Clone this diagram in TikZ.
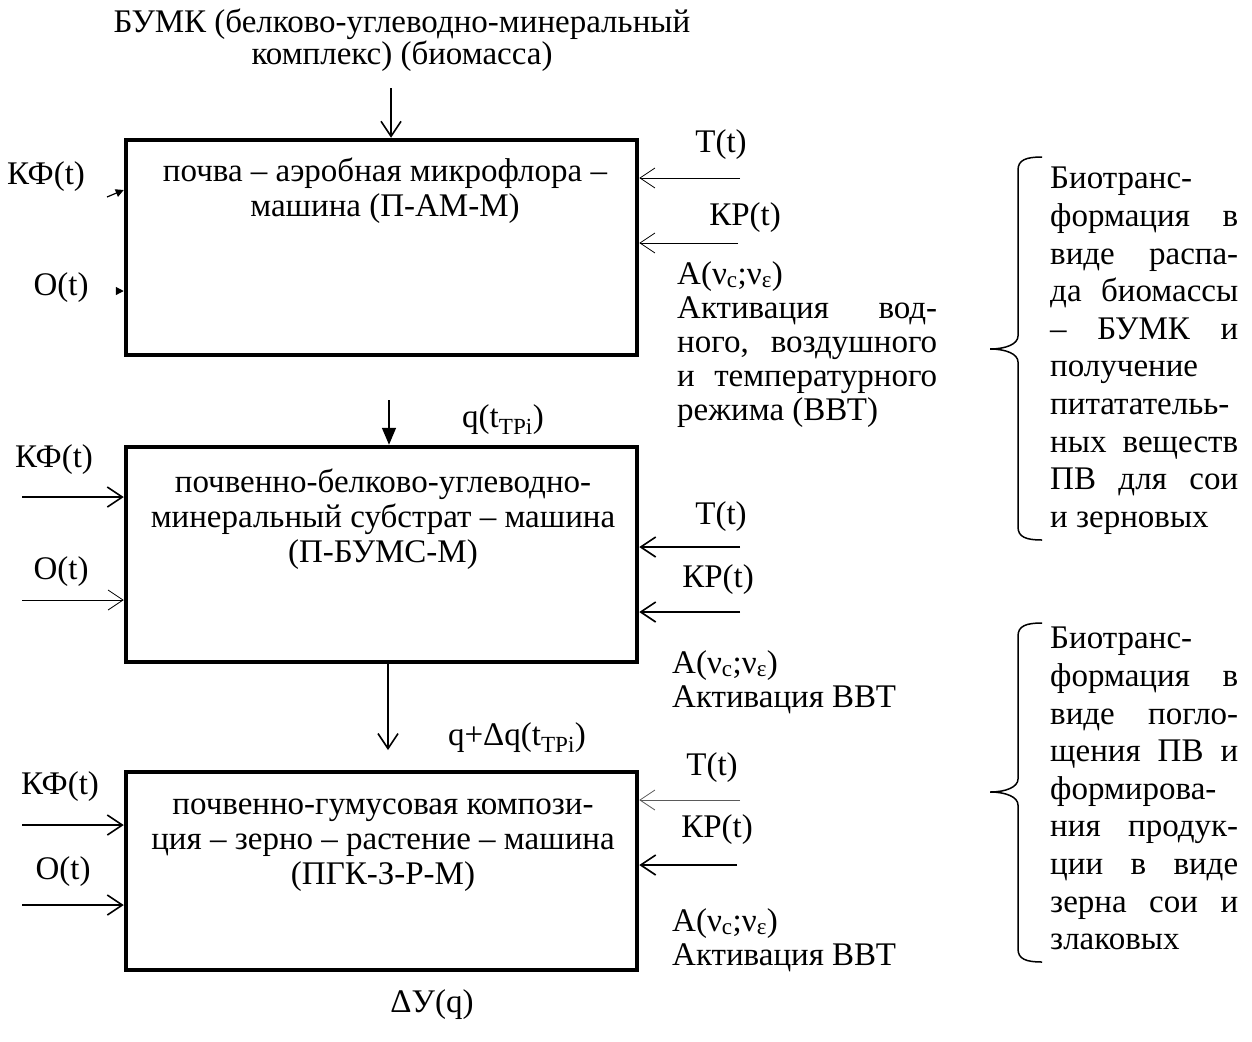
\documentclass[tikz,border=0pt]{standalone}
\usepackage{fontspec}
\setmainfont{Liberation Serif}
\usetikzlibrary{arrows.meta,positioning,calc}
\definecolor{ink}{HTML}{000000}
\definecolor{faint}{HTML}{5A5A5A}
\tikzset{
  block/.style={rectangle,draw=ink,line width=4.5pt,minimum width=511pt,minimum height=215pt,inner sep=0pt},
  blocktext/.style={align=center,anchor=north,inner sep=0pt,font=\fontsize{33}{35}\selectfont},
  lbl/.style={inner sep=0pt,font=\fontsize{33}{34}\selectfont},
  sidetext/.style={align=left,anchor=north west,inner sep=0pt,font=\fontsize{33}{34}\selectfont},
  bracetext/.style={align=left,anchor=north west,inner sep=0pt,font=\fontsize{33}{37.6}\selectfont},
  feed/.style={-{Straight Barb[length=15pt,width=20pt]},line width=1.6pt,ink},
  feedthin/.style={feed,line width=0.8pt},
  flow/.style={-{Triangle[length=17pt,width=14pt]},line width=1.6pt,ink},
  tick/.style={-{Triangle[length=8pt,width=8pt]},line width=1.2pt,ink},
  curly/.style={line width=1.5pt,ink}
}
\newcommand{\jline}[2]{\makebox[#1][s]{#2}}
\newcommand{\actA}{A(ν\textsubscript{c};ν\textsubscript{ε})}

\begin{document}
\begin{tikzpicture}[x=1pt,y=-1pt]
  \useasboundingbox (0,0) rectangle (1252,1041);
  \node[lbl,align=center,anchor=north,font=\fontsize{33}{30}\selectfont] (bumk) at (402,9)
    {БУМК (белково-углеводно-минеральный\\комплекс) (биомасса)};

  \node[block] (box1) at (381.5,247.5) {};
  \node[block] (box2) at (381.5,554.5) {};
  \node[block,minimum height=198pt] (box3) at (381.5,871) {};

  \node[blocktext] (txt1) at (385,158) {почва – аэробная микрофлора –\\машина (П-АМ-М)};
  \node[blocktext] (txt2) at (383,469) {почвенно-белково-углеводно-\\минеральный субстрат – машина\\(П-БУМС-М)};
  \node[blocktext] (txt3) at (383,799) {почвенно-гумусовая компози-\\ция – зерно – растение – машина\\(ПГК-З-Р-М)};

  \coordinate (in1) at (391,88);
  \draw[feed] (in1) -- (in1 |- box1.north);
  \coordinate (q1) at (389,400);
  \draw[flow] (q1) -- (q1 |- box2.north);
  \node[lbl] (qlab) at (503,420) {q(t\textsubscript{ТРi})};
  \coordinate (q2) at (388,750);
  \draw[feed] (box2.south -| q2) -- (q2);
  \node[lbl] (dqlab) at (517,738) {q+Δq(t\textsubscript{ТРi})};
  \node[lbl] (dy) at (432,1005) {ΔУ(q)};

  % left inputs
  \node[lbl] (kf1) at (46,177) {КФ(t)};
  \node[lbl] (o1) at (61,288) {О(t)};
  \coordinate (kf1s) at (107,197);
  \draw[tick] (kf1s) -- ([yshift=57.5pt]box1.west);
  \coordinate (o1s) at (116,291);
  \draw[tick] (o1s) -- (o1s -| box1.west);

  \node[lbl] (kf2) at (54,460) {КФ(t)};
  \node[lbl] (o2) at (61,572) {О(t)};
  \coordinate (kf2s) at (22,497);
  \draw[feed] (kf2s) -- (kf2s -| box2.west);
  \coordinate (o2s) at (22,600);
  \draw[feedthin] (o2s) -- (o2s -| box2.west);

  \node[lbl] (kf3) at (60,787) {КФ(t)};
  \node[lbl] (o3) at (63,872) {О(t)};
  \coordinate (kf3s) at (22,825);
  \draw[feed] (kf3s) -- (kf3s -| box3.west);
  \coordinate (o3s) at (22,905);
  \draw[feed] (o3s) -- (o3s -| box3.west);

  % right inputs
  \node[lbl] (t1) at (721,145) {Т(t)};
  \node[lbl] (kp1) at (745,218) {КР(t)};
  \coordinate (t1s) at (740,178);
  \draw[feedthin] (t1s) -- (t1s -| box1.east);
  \coordinate (kp1s) at (738,243);
  \draw[feedthin] (kp1s) -- (kp1s -| box1.east);

  \node[lbl] (t2) at (721,517) {Т(t)};
  \node[lbl] (kp2) at (718,580) {КР(t)};
  \coordinate (t2s) at (740,547);
  \draw[feed] (t2s) -- (t2s -| box2.east);
  \coordinate (kp2s) at (740,612);
  \draw[feed] (kp2s) -- (kp2s -| box2.east);

  \node[lbl] (t3) at (712,768) {Т(t)};
  \node[lbl] (kp3) at (717,830) {КР(t)};
  \coordinate (t3s) at (740,800);
  \draw[feedthin,faint] (t3s) -- (t3s -| box3.east);
  \coordinate (kp3s) at (737,865);
  \draw[feed] (kp3s) -- (kp3s -| box3.east);

  \node[sidetext] (act1) at (677,261) {\actA\\
    \jline{260pt}{Активация вод-}\\
    \jline{260pt}{ного, воздушного}\\
    \jline{260pt}{и температурного}\\
    режима (ВВТ)};
  \node[sidetext] (act2) at (672,650) {\actA\\Активация ВВТ};
  \node[sidetext] (act3) at (672,908) {\actA\\Активация ВВТ};

  % braces
  \draw[curly] (1042,157) .. controls (1026,157) and (1018,160) .. (1018,170) -- (1018,336)
    .. controls (1018,344) and (1006,349) .. (990,349)
    .. controls (1006,349) and (1018,354) .. (1018,362) -- (1018,527)
    .. controls (1018,537) and (1026,540) .. (1042,540);
  \draw[curly] (1042,623) .. controls (1026,623) and (1018,626) .. (1018,636) -- (1018,779)
    .. controls (1018,787) and (1006,792) .. (990,792)
    .. controls (1006,792) and (1018,797) .. (1018,805) -- (1018,949)
    .. controls (1018,959) and (1026,962) .. (1042,962);
  \node[bracetext] (bio1) at (1050,167) {Биотранс-\\
    \jline{188pt}{формация в}\\
    \jline{188pt}{виде распа-}\\
    \jline{188pt}{да биомассы}\\
    \jline{188pt}{– БУМК и}\\
    получение\\
    питатательь-\\
    \jline{188pt}{ных веществ}\\
    \jline{188pt}{ПВ для сои}\\
    и зерновых};
  \node[bracetext] (bio2) at (1050,627) {Биотранс-\\
    \jline{188pt}{формация в}\\
    \jline{188pt}{виде погло-}\\
    \jline{188pt}{щения ПВ и}\\
    формирова-\\
    \jline{188pt}{ния продук-}\\
    \jline{188pt}{ции в виде}\\
    \jline{188pt}{зерна сои и}\\
    злаковых};
\end{tikzpicture}
\end{document}
